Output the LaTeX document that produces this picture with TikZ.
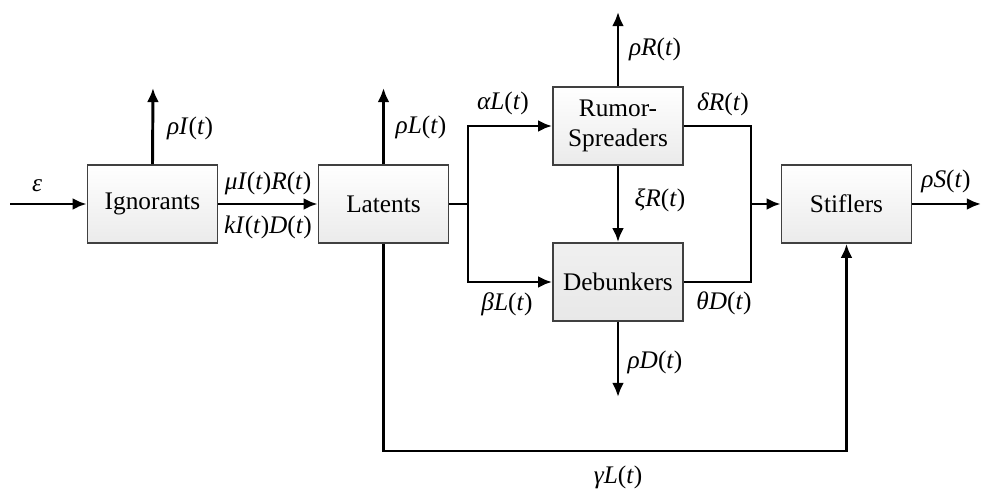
\documentclass[tikz,border=0pt]{standalone}
\usepackage{fontspec}
\setmainfont{Liberation Serif}
\usetikzlibrary{arrows.meta,positioning}
\tikzset{
    box/.style={draw=black!75, line width=1.3pt, minimum width=3.25cm, minimum height=1.95cm,
                top color=white, bottom color=gray!16, align=center, inner sep=2pt},
    darkbox/.style={box, top color=gray!12, bottom color=gray!18},
    flow/.style={draw, line width=2.1pt, -{Latex[length=10pt, width=8.5pt]}},
    line/.style={draw, line width=2.1pt},
    rate/.style={inner sep=1pt}
}
\newcommand{\rt}[1]{\textit{#1}(\textit{t})}

\begin{document}
\begin{tikzpicture}[x=0.025cm, y=-0.025cm, font=\fontsize{18}{20}\selectfont]
    \useasboundingbox (0,0) rectangle (982,490);
    % Nodes
    \node[box] (ign) at (152.5,204) {Ignorants};
    \node[box] (lat) at (383.5,204) {Latents};
    \node[box] (spr) at (618,126) {Rumor-\\[1pt]Spreaders};
    \node[darkbox] (deb) at (618,282) {Debunkers};
    \node[box] (stf) at (846.5,204) {Stiflers};

    % free ends and bends
    \coordinate (in) at (10,204);
    \coordinate (ignout) at (153,88);
    \coordinate (latout) at (383.5,88);
    \coordinate (junc) at (468,204);
    \coordinate (sprout) at (618,12);
    \coordinate (debout) at (618,397);
    \coordinate (merge) at (751,204);
    \coordinate (sout) at (981,204);
    \coordinate (gbot) at (618,451);

    % edges
    \draw[flow] (in) -- (ign);
    \draw[flow] (ign.north) -- (ignout);
    \draw[flow] (ign) -- (lat);
    \draw[flow] (lat.north) -- (latout);
    \draw[line] (lat) -- (junc);
    \draw[flow] (junc) |- (spr);
    \draw[flow] (junc) |- (deb);
    \draw[flow] (spr.north) -- (sprout);
    \draw[flow] (spr) -- (deb);
    \draw[flow] (deb.south) -- (debout);
    \draw[line] (spr.east) -| (merge) |- (deb.east);
    \draw[flow] (merge) -- (stf);
    \draw[flow] (stf) -- (sout);
    \draw[line] (lat.south) |- (gbot);
    \draw[flow] (gbot) -| (stf.south);

    % rates
    \node[rate] at (37,186) {\textit{ε}};
    \node[rate] at (190,128) {\rt{ρI}};
    \node[rate] at (268,183) {\textit{μI}(\textit{t})\textit{R}(\textit{t})};
    \node[rate] at (268,227) {\textit{kI}(\textit{t})\textit{D}(\textit{t})};
    \node[rate] at (421,127) {\rt{ρL}};
    \node[rate] at (503,103) {\rt{αL}};
    \node[rate] at (507,304) {\rt{βL}};
    \node[rate] at (655,49) {\rt{ρR}};
    \node[rate] at (723,104) {\rt{δR}};
    \node[rate] at (660,200) {\rt{ξR}};
    \node[rate] at (724,303) {\rt{θD}};
    \node[rate] at (655,362) {\rt{ρD}};
    \node[rate] at (946,181) {\rt{ρS}};
    \node[rate] at (618,477) {\rt{γL}};
\end{tikzpicture}
\end{document}
